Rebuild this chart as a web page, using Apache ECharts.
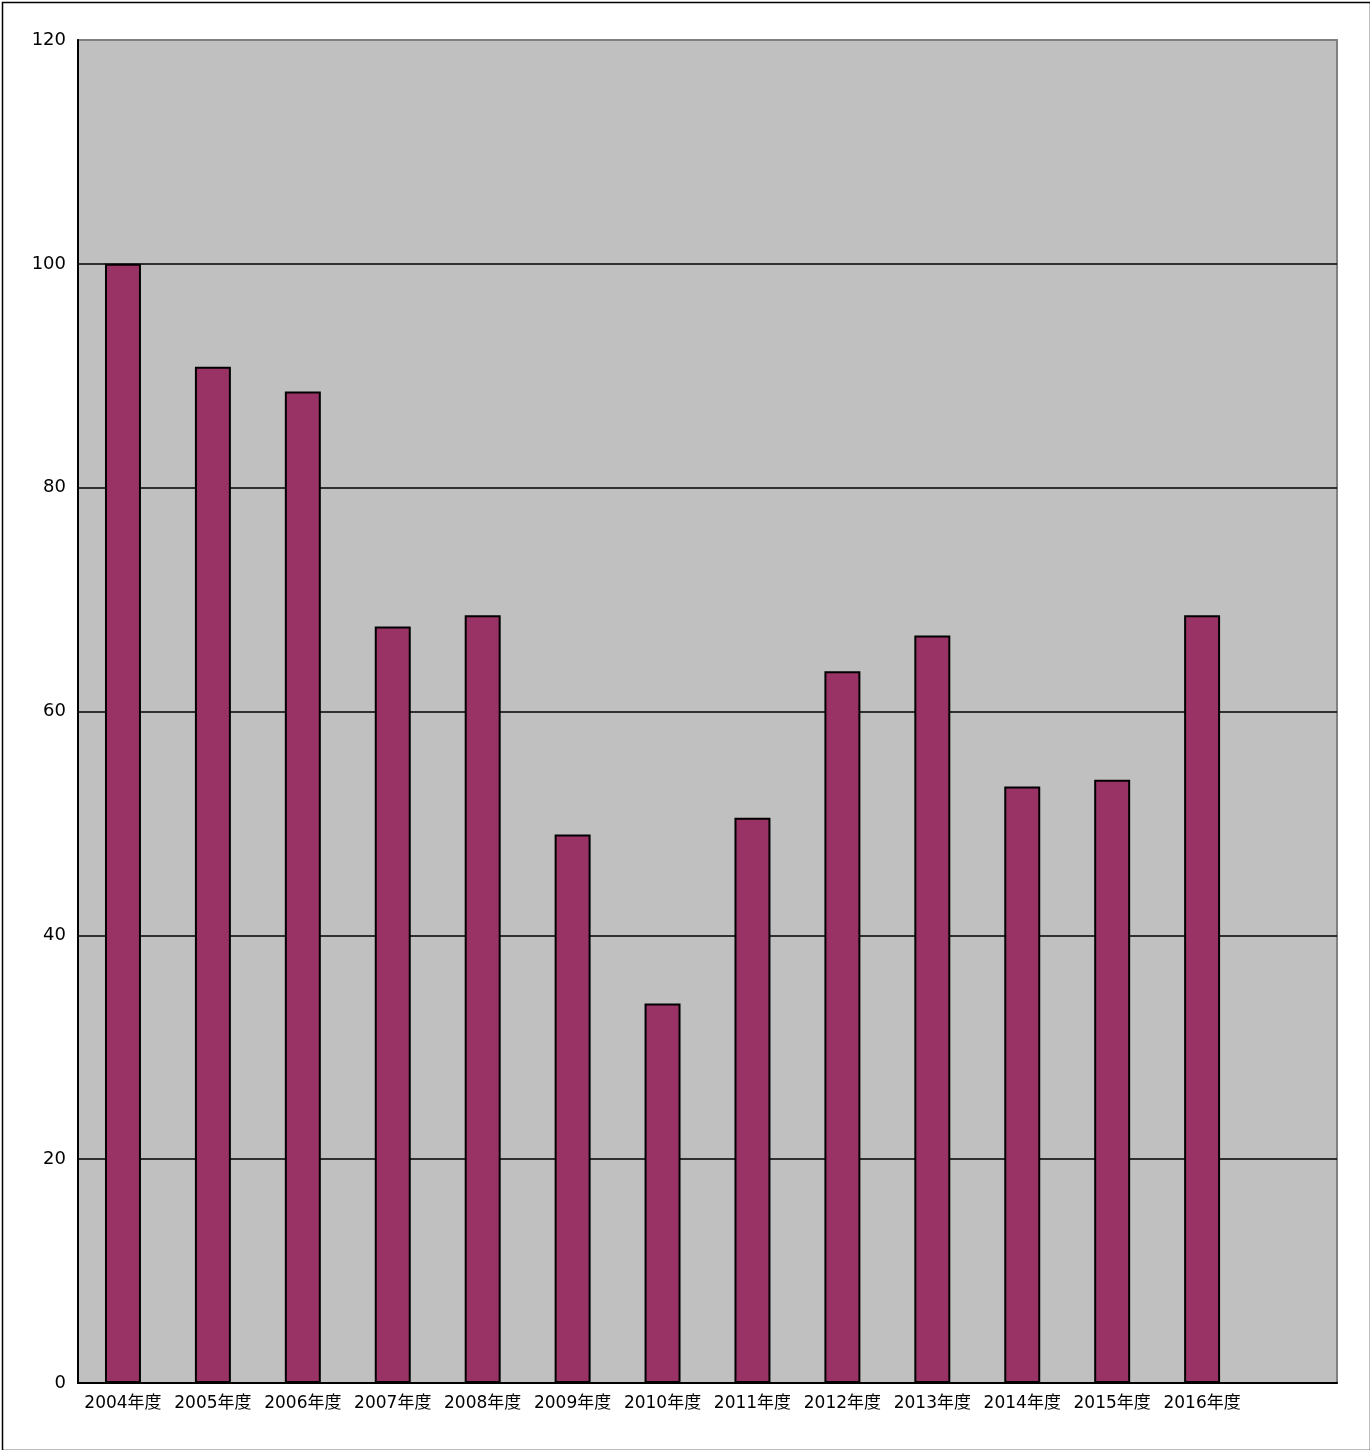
<!DOCTYPE html>
<html><head><meta charset="utf-8">
<script src="https://cdn.jsdelivr.net/npm/echarts@6/dist/echarts.min.js"></script>
<style>html,body{margin:0;padding:0;background:#fff}#c{width:1370px;height:1450px}</style>
</head><body><div id="c"></div>
<script>
const categories = ['2004年度','2005年度','2006年度','2007年度','2008年度','2009年度','2010年度','2011年度','2012年度','2013年度','2014年度','2015年度','2016年度',''];
const values = [100, 90.8, 88.6, 67.6, 68.6, 49.0, 33.9, 50.5, 63.6, 66.8, 53.3, 53.9, 68.6, null];
const yTicks = {min: 0, max: 120, interval: 20};
const font = '"DejaVu Sans", "Noto Sans CJK JP", sans-serif';
const chart = echarts.init(document.getElementById('c'));
chart.setOption({
  animation: false,
  backgroundColor: '#fff',
  graphic: [{type:'rect', left:0, top:0, shape:{x:0.5,y:0.5,width:1368,height:1448}, style:{fill:'none', stroke:'#000', lineWidth:1.5}, silent:true}],
  grid: {left: 78, right: 33, top: 40, bottom: 67, show: true, backgroundColor: '#c0c0c0', borderColor: '#808080', borderWidth: 2},
  xAxis: {
    type: 'category', data: categories,
    axisLine: {lineStyle: {color: '#000', width: 2}},
    axisTick: {inside: true, length: 5, interval: 0, lineStyle: {color: '#000', width: 2}},
    axisLabel: {color: '#000', fontSize: 17, fontFamily: font, margin: 12, interval: 0}
  },
  yAxis: {
    type: 'value', min: yTicks.min, max: yTicks.max, interval: yTicks.interval,
    axisLine: {show: true, lineStyle: {color: '#000', width: 2}},
    axisTick: {show: false},
    axisLabel: {color: '#000', fontSize: 18, fontFamily: font, margin: 12},
    splitLine: {show: true, showMaxLine: false, lineStyle: {color: '#000', width: 1.5}}
  },
  series: [{
    type: 'bar', data: values, barWidth: '40%',
    itemStyle: {color: '#993366', borderColor: '#000', borderWidth: 2}
  }]
});
</script></body></html>
